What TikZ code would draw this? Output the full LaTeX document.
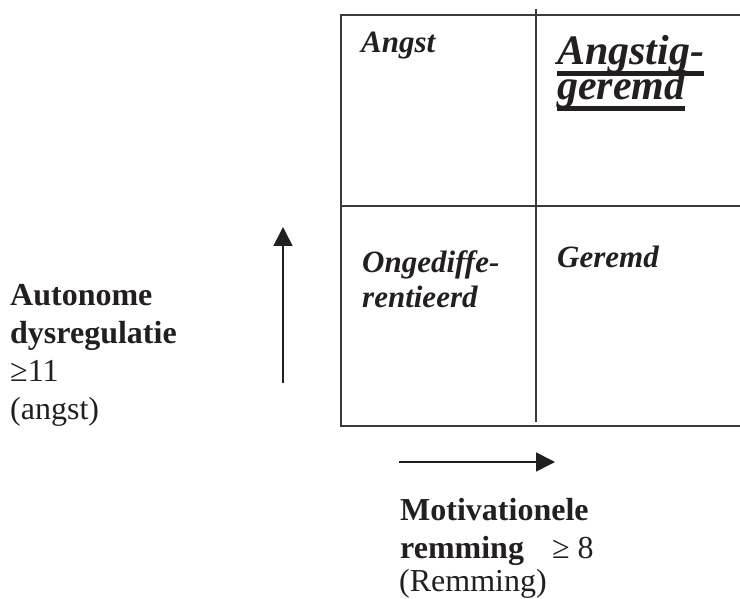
\documentclass[tikz,border=0pt]{standalone}
\usepackage{fontspec}
\setmainfont{Liberation Serif}
\usetikzlibrary{arrows.meta}

\definecolor{gridgray}{HTML}{3A3A3A}
\definecolor{inkblack}{HTML}{231F20}

% thick underline drawn under a word
\newcommand\thickul[1]{\setbox0=\hbox{#1}\rlap{\smash{\rule[-11pt]{\wd0}{5pt}}}\box0}
\newcommand\tightlines{\lineskiplimit=-30pt\relax}

\begin{document}
\begin{tikzpicture}[
      x=1pt, y=-1pt,
      every node/.style={inner sep=0pt, text=inkblack},
      frame/.style={draw=gridgray, line width=2pt},
      cell/.style={anchor=base west, align=left, font=\fontsize{31}{35}\selectfont\bfseries\itshape},
      axislabel/.style={anchor=base west, align=left, font=\fontsize{32}{38}\selectfont},
      arrow/.style={-{Triangle[length=19pt,width=19pt]}, line width=1.6pt, draw=inkblack}
    ]
      \useasboundingbox (0,0) rectangle (740,599);

      % the four fields (anchor = baseline of the last line)
      \draw[frame] (740,15) -- (341,15) -- (341,426) -- (740,426);
      \draw[frame] (341,206) -- (740,206);
      \draw[frame] (536,9) -- (536,422);

      \node[cell] (angst) at (361,53) {Angst};
      \node[cell, font={\fontsize{42}{35}\selectfont\tightlines\bfseries\itshape}] (angstgeremd) at (557,100) {\thickul{Angstig-}\\\thickul{geremd}};
      \node[cell] (ongedifferentieerd) at (362,307) {Ongediffe-\\rentieerd};
      \node[cell] (geremd) at (557,268) {Geremd};

      % axes
      \node[axislabel] (autonome) at (10,419) {\textbf{Autonome}\\\textbf{dysregulatie}\\≥11\\(angst)};
      \node[axislabel] (motivationeel) at (400,591) {\textbf{Motivationele}\\\textbf{remming}\hspace{28pt}≥ 8\\[-5pt]\hspace{-1pt}(Remming)};

      \coordinate (uptail) at (283,383);
      \coordinate (uphead) at (283,227);
      \coordinate (righttail) at (399,462);
      \coordinate (righthead) at (555,462);
      \draw[arrow] (uptail) -- (uphead);
      \draw[arrow] (righttail) -- (righthead);
    \end{tikzpicture}
\end{document}
